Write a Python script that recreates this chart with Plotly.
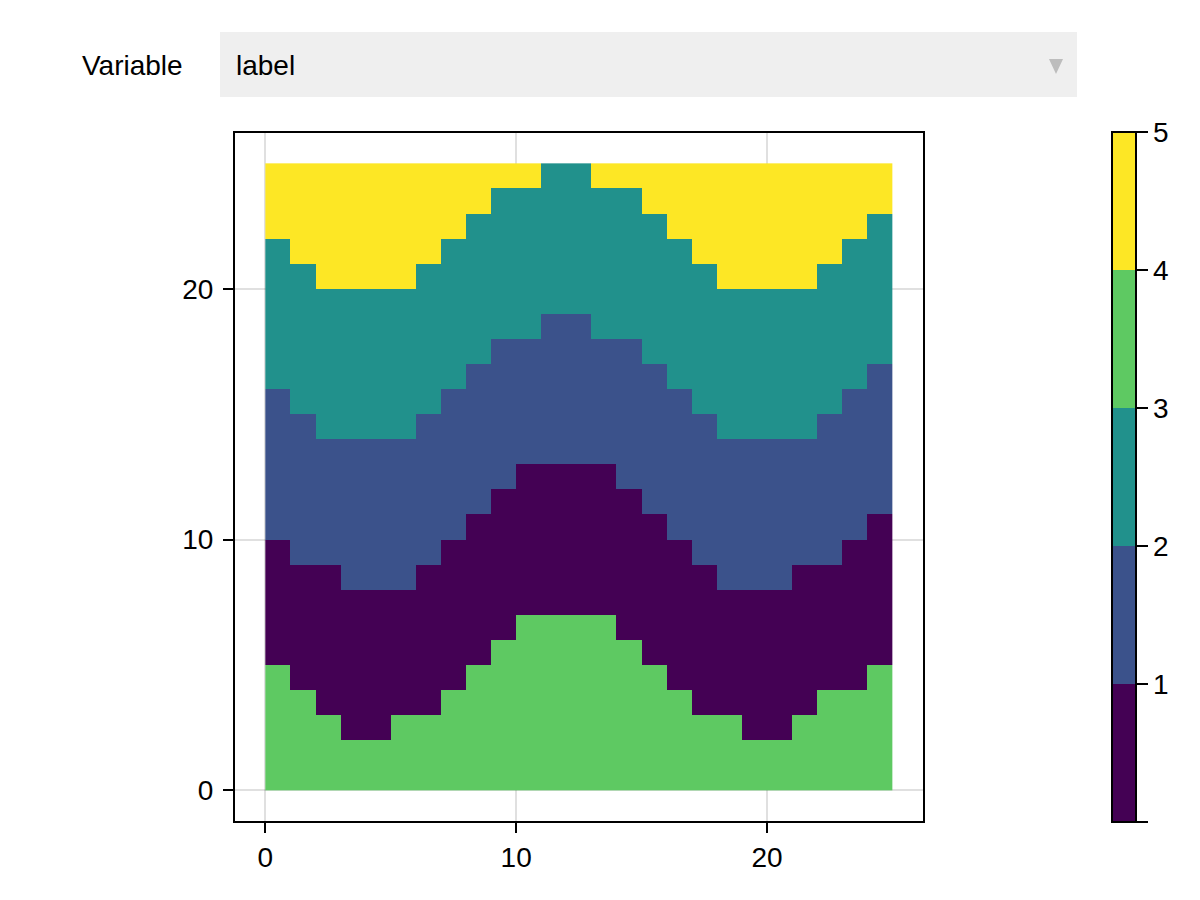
import plotly.graph_objects as go

# top edge of each band, one entry per column
green_top = [5, 4, 3, 2, 2, 3, 3, 4, 5, 6, 7, 7, 7, 7, 6, 5, 4, 3, 3, 2, 2, 3, 4, 4, 5]
purple_top = [10, 9, 9, 8, 8, 8, 9, 10, 11, 12, 13, 13, 13, 13, 12, 11, 10, 9, 8, 8, 8, 9, 9, 10, 11]
blue_top = [16, 15, 14, 14, 14, 14, 15, 16, 17, 18, 18, 19, 19, 18, 18, 17, 16, 15, 14, 14, 14, 14, 15, 16, 17]
teal_top = [22, 21, 20, 20, 20, 20, 21, 22, 23, 24, 24, 25, 25, 24, 24, 23, 22, 21, 20, 20, 20, 20, 21, 22, 23]

band_colors = ["#440154", "#3b528b", "#21918c", "#5ec962", "#fde725"]
bar_ticks = [0, 1, 2, 3, 4, 5]
bar_labels = ["", "1", "2", "3", "4", "5"]
axis_ticks = [0, 10, 20]

W, H = 1200, 900
FONT = "Liberation Sans"
FS = 28

# label of each cell, bottom row first
z = []
for row in range(25):
    line = []
    for col in range(25):
        if row < green_top[col]:
            line.append(4)
        elif row < purple_top[col]:
            line.append(1)
        elif row < blue_top[col]:
            line.append(2)
        elif row < teal_top[col]:
            line.append(3)
        else:
            line.append(5)
    z.append(line)

# hard steps, each colour covers (k, k+1] on the bar
colorscale = []
for k, c in enumerate(band_colors):
    colorscale.append([k / 5 + (0.0001 if k else 0), c])
    colorscale.append([(k + 1) / 5, c])

edges = list(range(26))

fig = go.Figure(go.Heatmap(
    x=edges,
    y=edges,
    z=z,
    zmin=0,
    zmax=5,
    colorscale=colorscale,
    hoverongaps=False,
    colorbar=dict(
        thickness=24,
        thicknessmode="pixels",
        len=690 / H,
        lenmode="fraction",
        x=1112 / W,
        xanchor="left",
        y=(H - 822) / H,
        yanchor="bottom",
        xpad=0,
        ypad=0,
        outlinecolor="black",
        outlinewidth=2,
        borderwidth=0,
        ticks="outside",
        ticklen=11,
        tickwidth=2,
        tickcolor="black",
        tickmode="array",
        tickvals=bar_ticks,
        ticktext=bar_labels,
        tickfont=dict(family=FONT, size=FS, color="black"),
    ),
))

axis = dict(
    tickmode="array",
    tickvals=axis_ticks,
    ticks="outside",
    ticklen=10,
    tickwidth=2,
    tickcolor="black",
    showline=True,
    linecolor="black",
    linewidth=2,
    mirror=True,
    showgrid=True,
    gridcolor="rgba(0,0,0,0.12)",
    gridwidth=2,
    zeroline=False,
    tickfont=dict(family=FONT, size=FS, color="black"),
)

shapes = [
    # dropdown box
    dict(type="rect", xref="paper", yref="paper", x0=220 / W, x1=1077 / W,
         y0=1 - 97 / H, y1=1 - 32 / H, fillcolor="#efefef", line_width=0, layer="below"),
    # dropdown arrow
    dict(type="path", xref="paper", yref="paper",
         path=f"M {1049 / W} {1 - 59 / H} L {1063 / W} {1 - 59 / H} L {1056 / W} {1 - 74 / H} Z",
         fillcolor="#bdbdbd", line_width=0),
]

annotations = [
    dict(text="Variable", xref="paper", yref="paper", x=185 / W, y=1 - 65.5 / H,
         xanchor="right", yanchor="middle", showarrow=False,
         font=dict(family=FONT, size=FS, color="black")),
    dict(text="label", xref="paper", yref="paper", x=234 / W, y=1 - 65.5 / H,
         xanchor="left", yanchor="middle", showarrow=False,
         font=dict(family=FONT, size=FS, color="black")),
]

fig.update_layout(
    width=W,
    height=H,
    margin=dict(l=0, r=0, t=0, b=0),
    paper_bgcolor="white",
    plot_bgcolor="white",
    shapes=shapes,
    annotations=annotations,
    xaxis=dict(axis, domain=[235 / W, 923 / W], range=[-1.21, 26.22]),
    yaxis=dict(axis, domain=[1 - 821 / H, 1 - 133 / H], range=[-1.22, 26.21], ticklabelstandoff=4),
)

fig.write_html("out.html", config={"displayModeBar": False},
               post_script="document.body.style.margin='0';")
